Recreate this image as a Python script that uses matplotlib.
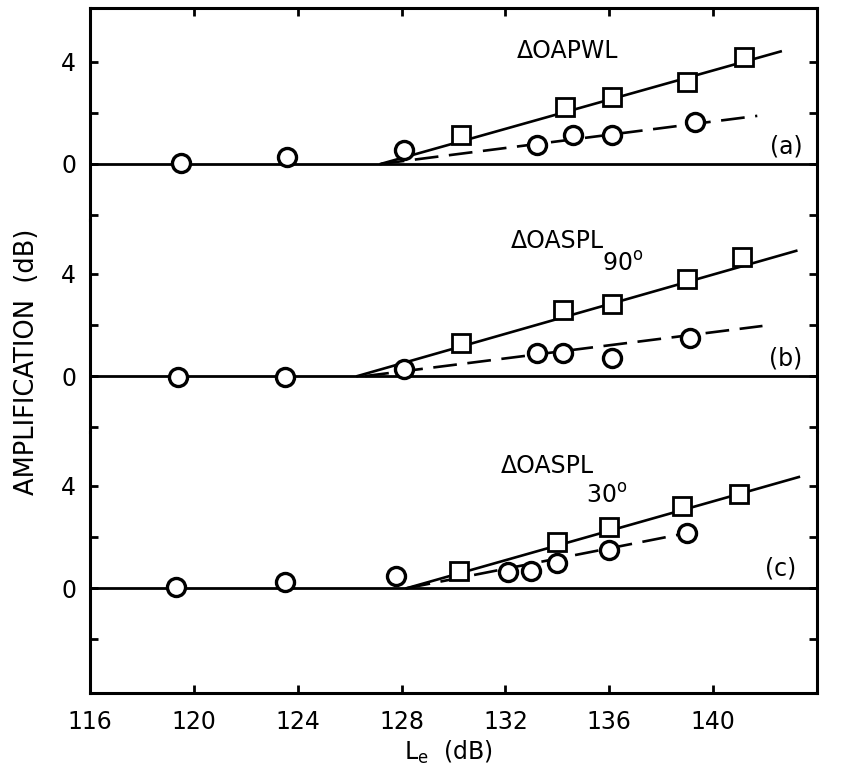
import matplotlib
matplotlib.use("Agg")
import matplotlib.pyplot as plt

# ---------------- data ----------------
# panel (a): dOAPWL
a_circ_x = [119.5, 123.6, 128.1, 133.2, 134.6, 136.1, 139.3]
a_circ_y = [0.05, 0.27, 0.55, 0.75, 1.14, 1.14, 1.65]
a_sq_x = [130.3, 134.3, 136.1, 139.0, 141.2]
a_sq_y = [1.14, 2.24, 2.60, 3.20, 4.20]
a_solid_x = [127.2, 142.6]
a_solid_y = [0.0, 4.4]
a_dash_x = [127.2, 141.7]
a_dash_y = [0.0, 1.88]

# panel (b): dOASPL 90 deg
b_circ_x = [119.4, 123.5, 128.1, 133.2, 134.2, 136.1, 139.1]
b_circ_y = [-0.05, -0.05, 0.27, 0.90, 0.90, 0.70, 1.50]
b_sq_x = [130.3, 134.2, 136.1, 139.0, 141.1]
b_sq_y = [1.30, 2.60, 2.80, 3.80, 4.65]
b_solid_x = [126.3, 143.2]
b_solid_y = [0.0, 4.9]
b_dash_x = [126.6, 141.9]
b_dash_y = [0.0, 1.96]

# panel (c): dOASPL 30 deg
c_circ_x = [119.3, 123.5, 127.8, 132.1, 133.0, 134.0, 136.0, 139.0]
c_circ_y = [0.04, 0.24, 0.47, 0.63, 0.67, 0.98, 1.49, 2.16]
c_sq_x = [130.2, 134.0, 136.0, 138.8, 141.0]
c_sq_y = [0.67, 1.80, 2.40, 3.20, 3.70]
c_solid_x = [128.2, 143.3]
c_solid_y = [0.0, 4.35]
c_dash_x = [128.2, 139.0]
c_dash_y = [0.0, 2.16]

x_ticks = [116, 120, 124, 128, 132, 136, 140]
y_ticks = [-2, 0, 2, 4]
y_labels = ["", "0", "", "4"]

panels = [
    dict(cx=a_circ_x, cy=a_circ_y, sx=a_sq_x, sy=a_sq_y, lx=a_solid_x, ly=a_solid_y,
         dx=a_dash_x, dy=a_dash_y, ylim=(-2.2, 6.1), tag="(a)", tagpos=(142.8, 0.67)),
    dict(cx=b_circ_x, cy=b_circ_y, sx=b_sq_x, sy=b_sq_y, lx=b_solid_x, ly=b_solid_y,
         dx=b_dash_x, dy=b_dash_y, ylim=(-2.2, 6.1), tag="(b)", tagpos=(142.8, 0.67)),
    dict(cx=c_circ_x, cy=c_circ_y, sx=c_sq_x, sy=c_sq_y, lx=c_solid_x, ly=c_solid_y,
         dx=c_dash_x, dy=c_dash_y, ylim=(-4.1, 6.1), tag="(c)", tagpos=(142.6, 0.78)),
]

plt.rcParams['font.family'] = ['DejaVu Sans']
plt.rcParams['mathtext.fontset'] = 'dejavusans'

W, H = 847, 778
fig = plt.figure(figsize=(W / 100, H / 100), dpi=100)
left, right = 90 / W, 817 / W
top, bottom = 1 - 8 / H, 1 - 693 / H
gs = fig.add_gridspec(3, 1, height_ratios=[8.3, 8.3, 10.2], hspace=0,
                      left=left, right=right, top=top, bottom=bottom)

lw_sp = 2.2
fs = 17
axes = []
for i, p in enumerate(panels):
    ax = fig.add_subplot(gs[i])
    axes.append(ax)
    ax.set_xlim(116, 144)
    ax.set_ylim(*p["ylim"])
    ax.axhline(0, color="black", lw=2.0, zorder=2)
    ax.plot(p["lx"], p["ly"], color="black", lw=1.9, zorder=2)
    ax.plot(p["dx"], p["dy"], color="black", lw=1.9, dashes=(9, 4), zorder=2)
    ax.plot(p["cx"], p["cy"], linestyle="none", marker="o", ms=13, mfc="white",
            mec="black", mew=2.4, zorder=4)
    ax.plot(p["sx"], p["sy"], linestyle="none", marker="s", ms=12.5, mfc="white",
            mec="black", mew=2.0, zorder=4)
    ax.text(p["tagpos"][0], p["tagpos"][1], p["tag"], fontsize=fs, ha="center", va="center")

    ax.set_yticks(y_ticks)
    ax.set_yticklabels(y_labels)
    ax.set_xticks(x_ticks)
    ax.tick_params(axis="both", direction="in", length=6, width=2.0, labelsize=fs,
                   left=True, right=True, top=(i == 0), bottom=(i == 2))
    ax.tick_params(axis="y", pad=10)
    ax.tick_params(axis="x", pad=12)
    for s in ax.spines.values():
        s.set_linewidth(lw_sp)
    if i > 0:
        ax.spines["top"].set_visible(False)
    if i < 2:
        ax.spines["bottom"].set_visible(False)
        ax.tick_params(axis="x", labelbottom=False)

axes[0].text(134.4, 4.4, "ΔOAPWL", fontsize=fs, ha="center", va="center")
axes[1].text(134.0, 5.3, "ΔOASPL", fontsize=fs, ha="center", va="center")
axes[1].text(136.5, 4.4, r"90$^{\mathregular{o}}$", fontsize=fs, ha="center", va="center")
axes[2].text(133.6, 4.8, "ΔOASPL", fontsize=fs, ha="center", va="center")
axes[2].text(135.9, 3.6, r"30$^{\mathregular{o}}$", fontsize=fs, ha="center", va="center")

fig.text(27 / W, 1 - 362 / H, "AMPLIFICATION  (dB)", rotation=90, fontsize=18.5,
         ha="center", va="center")
fig.text(448 / W, 1 - 752 / H, r"L$_{\mathregular{e}}$  (dB)", fontsize=fs,
         ha="center", va="center")

fig.savefig("out.png", dpi=100)
